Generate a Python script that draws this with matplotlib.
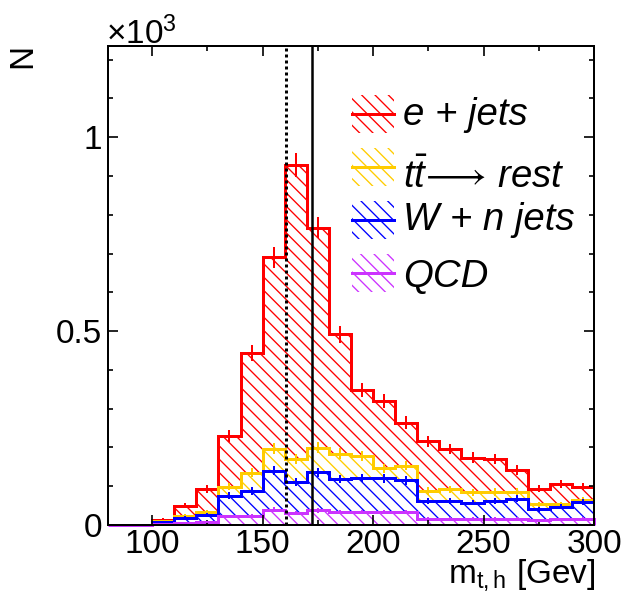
import numpy as np
import matplotlib
matplotlib.use('Agg')
import matplotlib.pyplot as plt
from matplotlib.patches import Rectangle
from matplotlib.lines import Line2D
from matplotlib.ticker import MultipleLocator, FuncFormatter

plt.rcParams['font.family'] = ['Liberation Sans', 'DejaVu Sans']
plt.rcParams['mathtext.fontset'] = 'custom'
plt.rcParams['mathtext.rm'] = 'Liberation Sans'
plt.rcParams['mathtext.it'] = 'Liberation Sans:italic'
plt.rcParams['hatch.linewidth'] = 0.8

# --- Data: m_{t,h} distribution, 10 GeV bins, stacked bottom -> top ---
bin_edges = [80, 90, 100, 110, 120, 130, 140, 150, 160, 170, 180, 190,
             200, 210, 220, 230, 240, 250, 260, 270, 280, 290, 300]
qcd     = [0, 0, 2, 6, 8, 22, 24, 39, 31, 38, 34, 34, 34, 34, 16, 16, 16, 16, 16, 12, 15, 16]
w_jets  = [0, 0, 5, 12, 19, 54, 64, 101, 80, 98, 85, 87, 86, 81, 46, 46, 42, 46, 52, 28, 32, 44]
tt_rest = [0, 0, 3, 5, 7, 23, 47, 57, 60, 63, 65, 57, 26, 38, 26, 30, 26, 23, 17, 13, 6, 4]
e_jets  = [0, 0, 4, 27, 59, 130, 309, 493, 757, 568, 308, 170, 174, 111, 128, 104, 90, 85, 57, 41, 53, 35]

labels = ['e + jets', r'$t\bar{t}\!\longrightarrow\,$rest', 'W + n jets', 'QCD']
colors = ['#ff0000', '#ffcc00', '#0000ff', '#cc33ff']
dotted_mass = 160.5
top_mass = 172.5

# --- Stack ---
edges = np.array(bin_edges, dtype=float)
centers = edges[:-1] + np.diff(edges) / 2
stack = np.cumsum(np.array([qcd, w_jets, tt_rest, e_jets], dtype=float), axis=0)
stack_colors = colors[::-1]  # bottom -> top order

fig = plt.figure(figsize=(5.2, 4.95), dpi=120)
ax = fig.add_axes([108 / 624, 69 / 594, 486 / 624, 479 / 594])

# hatched bands, each between the layer below and its own top
for i in range(len(stack) - 1, -1, -1):
    upper = stack[i]
    lower = stack[i - 1] if i > 0 else np.zeros_like(upper)
    col = stack_colors[i]
    ax.fill_between(edges, np.append(lower, lower[-1]), np.append(upper, upper[-1]),
                    step='post', facecolor='none', edgecolor=col,
                    hatch='\\\\\\', linewidth=0)

# outlines and errors, drawn top layer first like a THStack
for i in range(len(stack) - 1, -1, -1):
    upper = stack[i]
    col = stack_colors[i]
    ax.stairs(upper, edges, color=col, lw=1.8, baseline=0, clip_on=(i > 0))
    m = upper > 0
    err = np.sqrt(upper[m])
    ax.vlines(centers[m], upper[m] - err, upper[m] + err, color=col, lw=1.2)

ax.axvline(dotted_mass, color='black', lw=1.8, linestyle=(0, (1, 1)))
ax.axvline(top_mass, color='black', lw=1.5)

ax.set_xlim(80, 300)
ax.set_ylim(0, 1235)
ax.xaxis.set_major_locator(MultipleLocator(50))
ax.xaxis.set_minor_locator(MultipleLocator(25))
ax.yaxis.set_major_locator(MultipleLocator(500))
ax.yaxis.set_minor_locator(MultipleLocator(100))
ax.yaxis.set_major_formatter(FuncFormatter(lambda v, p: f'{v / 1000:g}'))
ax.tick_params(which='both', direction='in', top=True, right=True,
               labelsize=20, width=1)
ax.tick_params(axis='x', pad=2.5)
ax.tick_params(axis='y', pad=3.5)
ax.tick_params(which='major', length=6)
ax.tick_params(which='minor', length=3)
for s in ax.spines.values():
    s.set_linewidth(1.2)

# axis titles, ROOT style
fig.text(596 / 624, 1 - 583 / 594, r'm$_{\mathrm{t,h}}$ [Gev]', ha='right', va='baseline', fontsize=20)
fig.text(23 / 624, 1 - 56 / 594, 'N', rotation=90, ha='center', va='center', fontsize=20)
fig.text(106 / 624, 1 - 44 / 594, '×10$^{3}$', ha='left', va='baseline', fontsize=20)

# legend drawn by hand: hatched box with a line through it
box_x, box_w, box_h = 352, 42, 38
box_yc = [114, 167, 220, 273]
text_yc = [115, 177, 220, 277]
for lab, col, by, ty in zip(labels, colors, box_yc, text_yc):
    fig.add_artist(Rectangle((box_x / 624, 1 - (by + box_h / 2) / 594), box_w / 624, box_h / 594,
                             transform=fig.transFigure, fill=False, edgecolor=col,
                             hatch='\\\\\\', linewidth=0))
    fig.add_artist(Line2D([box_x / 624, (box_x + box_w) / 624], [1 - by / 594, 1 - by / 594],
                          transform=fig.transFigure, color=col, lw=1.8))
    fig.text(403 / 624, 1 - ty / 594, lab, ha='left', va='center', fontsize=23, fontstyle='italic')

fig.savefig('out.png', dpi=120)
